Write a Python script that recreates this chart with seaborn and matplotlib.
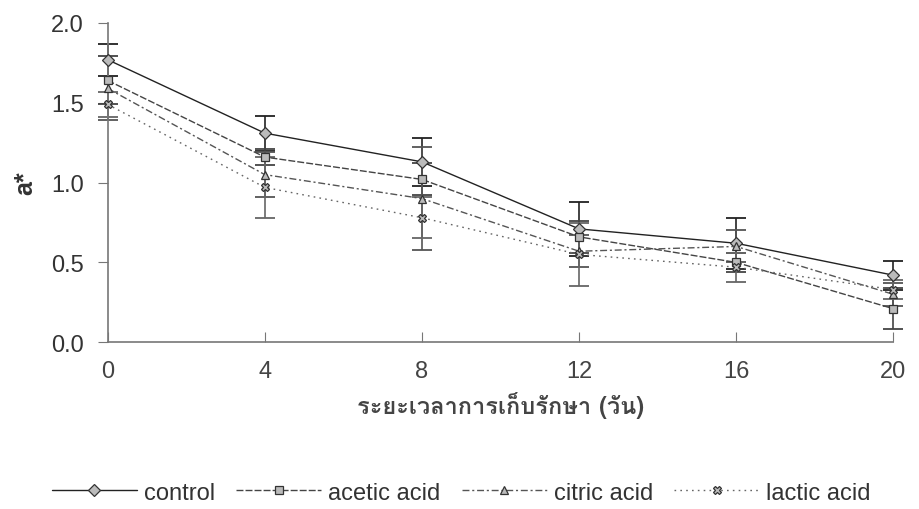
import matplotlib
matplotlib.use("Agg")
import matplotlib.pyplot as plt
from matplotlib import font_manager
from matplotlib.ft2font import FT2Font
import pandas as pd
import seaborn as sns

days = [0, 4, 8, 12, 16, 20]
treatments = ["control", "acetic acid", "citric acid", "lactic acid"]

control = [1.77, 1.31, 1.13, 0.71, 0.62, 0.42]
acetic = [1.64, 1.16, 1.02, 0.66, 0.50, 0.21]
citric = [1.59, 1.05, 0.90, 0.57, 0.60, 0.30]
lactic = [1.49, 0.97, 0.78, 0.55, 0.47, 0.33]

control_sd = [0.10, 0.11, 0.15, 0.17, 0.16, 0.09]
acetic_sd = [0.15, 0.05, 0.10, 0.10, 0.06, 0.13]
citric_sd = [0.20, 0.14, 0.32, 0.10, 0.10, 0.07]
lactic_sd = [0.08, 0.19, 0.13, 0.20, 0.09, 0.06]

x_label = "ระยะเวลาการเก็บรักษา (วัน)"
y_label = "a*"


def thai_font():
    # pick any installed font that actually has Thai glyphs
    for f in font_manager.fontManager.ttflist:
        try:
            if ord("ร") in FT2Font(f.fname).get_charmap():
                return f.name
        except Exception:
            continue
    return "DejaVu Sans"


sns.set_style("ticks")
plt.rcParams["font.family"] = ["Liberation Sans", "DejaVu Sans"]

values = {"control": control, "acetic acid": acetic, "citric acid": citric, "lactic acid": lactic}
sds = {"control": control_sd, "acetic acid": acetic_sd, "citric acid": citric_sd, "lactic acid": lactic_sd}

rows = []
for t in treatments:
    for d, v, s in zip(days, values[t], sds[t]):
        rows.append({"day": d, "a": v, "sd": s, "treatment": t})
df = pd.DataFrame(rows)

palette = {"control": "#222222", "acetic acid": "#444444", "citric acid": "#555555", "lactic acid": "#666666"}
dashes = {"control": "", "acetic acid": (5, 1.5), "citric acid": (5, 2, 1.5, 2), "lactic acid": (1.2, 3)}
markers = {"control": "D", "acetic acid": "s", "citric acid": "^", "lactic acid": "X"}

fig, ax = plt.subplots(figsize=(9.2, 5.1), dpi=100)
fig.subplots_adjust(left=0.117, right=0.971, bottom=0.327, top=0.953)

for t in treatments:
    sub = df[df["treatment"] == t]
    eb = ax.errorbar(sub["day"], sub["a"], yerr=sub["sd"], fmt="none",
                     ecolor=palette[t], elinewidth=1.2, capsize=7, capthick=1.3, zorder=2)
    for art in eb.lines[1] + eb.lines[2]:
        art.set_clip_on(False)

sns.lineplot(data=df, x="day", y="a", hue="treatment", style="treatment",
             palette=palette, dashes=dashes, markers=markers, markersize=6,
             markerfacecolor="#bbbbbb", markeredgecolor="#333333", markeredgewidth=0.9,
             linewidth=1.0, ax=ax, zorder=3)
for line in ax.lines:
    line.set_clip_on(False)

ax.set_xlim(0, 20)
ax.set_ylim(0, 2.0)
ax.set_xticks(days)
ax.set_yticks([0.0, 0.5, 1.0, 1.5, 2.0])
ax.set_yticklabels([f"{v:.1f}" for v in [0.0, 0.5, 1.0, 1.5, 2.0]])
ax.tick_params(axis="y", direction="out", length=7, colors="#777777", labelcolor="#333333",
               labelsize=17, pad=10)
ax.tick_params(axis="x", direction="in", length=7, colors="#777777", labelcolor="#444444",
               labelsize=17, pad=13)
for side in ["top", "right"]:
    ax.spines[side].set_visible(False)
for side in ["left", "bottom"]:
    ax.spines[side].set_color("#777777")
    ax.spines[side].set_linewidth(1.2)

ax.set_xlabel(x_label, fontsize=17, fontweight="bold", color="#444444",
              family=[thai_font(), "DejaVu Sans"], labelpad=6)
ax.set_ylabel(y_label, fontsize=18, fontweight="bold", color="#333333", labelpad=10)

handles, labels = ax.get_legend_handles_labels()
ax.legend(handles, labels, loc="upper center", bbox_to_anchor=(0.45, -0.37), ncol=4,
          frameon=False, handlelength=3.6, handletextpad=0.3,
          columnspacing=0.9, labelcolor="#333333",
          prop={"family": ["Liberation Sans Narrow", "Liberation Sans"], "size": 17})

fig.savefig("out.png", dpi=100)
